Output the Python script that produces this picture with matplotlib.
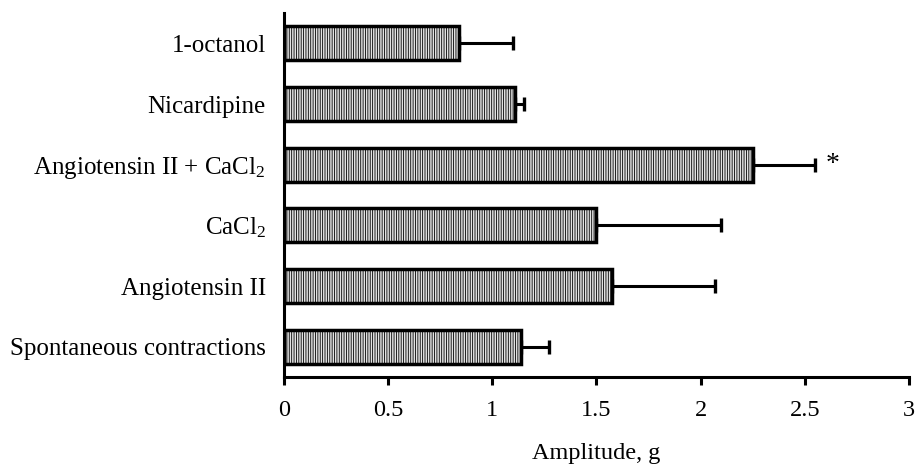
import matplotlib
matplotlib.use("Agg")
import matplotlib.pyplot as plt
import numpy as np

categories = ["Spontaneous contractions", "Angiotensin II", r"CaCl$_2$",
              r"Angiotensin II + CaCl$_2$", "Nicardipine", "1-octanol"]
means = [1.14, 1.575, 1.50, 2.25, 1.11, 0.84]
errors = [0.13, 0.495, 0.60, 0.30, 0.04, 0.26]
xticks = [0, 0.5, 1, 1.5, 2, 2.5, 3]
xticklabels = ["0", "0.5", "1", "1.5", "2", "2.5", "3"]
star_index = 3
star_label = "*"
xlabel = "Amplitude, g"

plt.rcParams['font.family'] = ['Liberation Serif', 'DejaVu Serif']
plt.rcParams['mathtext.fontset'] = 'custom'
plt.rcParams['mathtext.rm'] = 'Liberation Serif'
plt.rcParams['mathtext.it'] = 'Liberation Serif:italic'
plt.rcParams['hatch.color'] = '#b2b2b2'
plt.rcParams['hatch.linewidth'] = 0.6

fig = plt.figure(figsize=(9.17, 4.65), dpi=100)
ax = fig.add_axes([0.3097, 0.1892, 0.6815, 0.7828])

y = np.arange(len(categories))
ax.errorbar(means, y, xerr=[np.zeros(len(means)), errors], fmt='none',
            ecolor='black', elinewidth=2.2, capsize=5, capthick=2.4, zorder=1)
ax.barh(y, means, height=0.56, color='#e2e2e2', edgecolor='black',
        linewidth=2.5, hatch='|||||||', zorder=2)

ax.text(means[star_index] + errors[star_index] + 0.085, star_index, star_label,
        fontsize=20, ha='center', va='center')

ax.set_xlim(0, 3)
ax.set_ylim(-0.5, 5.5)
ax.set_xticks(xticks)
ax.set_xticklabels(xticklabels)
ax.set_yticks(y)
ax.set_yticklabels(categories)
ax.set_xlabel(xlabel, fontsize=17.5, labelpad=16)

for side in ['top', 'right']:
    ax.spines[side].set_visible(False)
for side in ['left', 'bottom']:
    ax.spines[side].set_linewidth(2.2)

ax.tick_params(axis='x', direction='out', length=5.5, width=2.2, pad=11, labelsize=17.5)
ax.tick_params(axis='y', length=0, pad=13, labelsize=18)

fig.savefig('out.png', dpi=100)
